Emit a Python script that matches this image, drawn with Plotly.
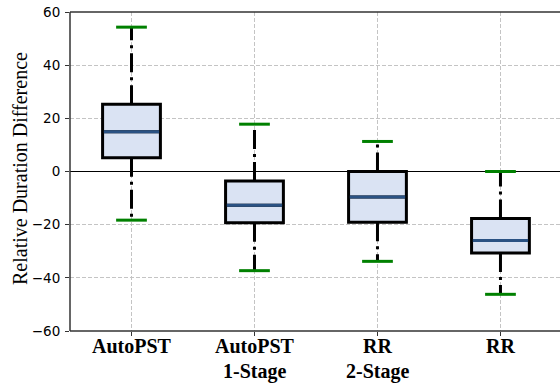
import plotly.graph_objects as go

categories = ["AutoPST", "AutoPST", "RR", "RR"]
second_lines = ["", "1-Stage", "2-Stage", ""]
lower_caps = [-18.3, -37.3, -33.8, -46.2]
q1_vals = [5.2, -19.3, -19.1, -30.7]
medians = [15.0, -12.7, -9.6, -26.0]
q3_vals = [25.3, -3.6, 0.0, -17.7]
upper_caps = [54.3, 17.8, 11.3, 0.0]
y_ticks = [-60, -40, -20, 0, 20, 40, 60]
y_title = "Relative Duration Difference"

BOX_W = 0.47
CAP_W = 0.25
fill = "#dae3f3"
median_color = "#2a5283"
cap_color = "#008000"
dashdot = "19px,5px,3px,5px"
label_font = dict(family="Liberation Serif", size=20, color="black", weight="bold")

fig = go.Figure()
positions = list(range(len(categories)))

for i in positions:
    fig.add_trace(go.Scatter(x=[i, i], y=[q3_vals[i], upper_caps[i]], mode="lines",
                             line=dict(color="black", width=3, dash=dashdot),
                             showlegend=False, hoverinfo="skip"))
    fig.add_trace(go.Scatter(x=[i, i], y=[q1_vals[i], lower_caps[i]], mode="lines",
                             line=dict(color="black", width=3, dash=dashdot),
                             showlegend=False, hoverinfo="skip"))

for i in positions:
    fig.add_trace(go.Box(x=[i], q1=[q1_vals[i]], median=[medians[i]], q3=[q3_vals[i]],
                         lowerfence=[q1_vals[i]], upperfence=[q3_vals[i]],
                         width=BOX_W, whiskerwidth=0, fillcolor=fill,
                         line=dict(color="black", width=3), showlegend=False,
                         boxpoints=False, hoverinfo="skip"))

for i in positions:
    fig.add_trace(go.Scatter(x=[i - BOX_W / 2 + 0.01, i + BOX_W / 2 - 0.01], y=[medians[i], medians[i]],
                             mode="lines", line=dict(color=median_color, width=3),
                             showlegend=False, hoverinfo="skip"))
    for c in (upper_caps[i], lower_caps[i]):
        fig.add_trace(go.Scatter(x=[i - CAP_W / 2, i + CAP_W / 2], y=[c, c], mode="lines",
                                 line=dict(color=cap_color, width=3),
                                 showlegend=False, hoverinfo="skip"))

for i, t in zip(positions, second_lines):
    if t:
        fig.add_annotation(x=i, xref="x", y=-0.085, yref="paper", text=t, showarrow=False,
                           xanchor="center", yanchor="top", font=label_font)

fig.add_annotation(x=-0.102, xref="paper", y=0.508, yref="paper", text=y_title,
                   textangle=-90, showarrow=False, xanchor="center", yanchor="middle",
                   font=dict(family="Liberation Serif", size=20, color="black"))

# spines (top, bottom, left)
spine = dict(color="#333333", width=1.5)
fig.add_shape(type="line", xref="paper", yref="paper", x0=0, x1=1, y0=1, y1=1, line=spine, layer="above")
fig.add_shape(type="line", xref="paper", yref="paper", x0=0, x1=1, y0=0, y1=0, line=spine, layer="above")
fig.add_shape(type="line", xref="paper", yref="paper", x0=0, x1=0, y0=0, y1=1, line=spine, layer="above")

fig.update_layout(
    width=560, height=384,
    margin=dict(l=70, r=0, t=12, b=53, autoexpand=False),
    paper_bgcolor="white", plot_bgcolor="white",
    font=dict(family="DejaVu Sans", color="black"),
    hovermode=False,
    xaxis=dict(
        range=[-0.5, 3.484], tickmode="array", tickvals=positions, ticktext=categories,
        showgrid=True, gridcolor="#c4c4c4", gridwidth=1, griddash="4px,2px",
        showline=False, mirror=False,
        ticks="outside", ticklen=4, tickcolor="#333333", tickwidth=1,
        ticklabelstandoff=-7,
        tickfont=label_font, automargin=False,
        zeroline=False, fixedrange=True,
    ),
    yaxis=dict(
        range=[-60, 60], tickmode="array", tickvals=y_ticks,
        showgrid=True, gridcolor="#c4c4c4", gridwidth=1, griddash="4px,2px",
        showline=False, mirror=False,
        ticks="outside", ticklen=4, tickcolor="#333333", tickwidth=1,
        ticklabelstandoff=2, ticklabeloverflow="allow",
        tickfont=dict(family="DejaVu Sans", size=13.5, color="black"),
        zeroline=True, zerolinecolor="black", zerolinewidth=1.5,
        automargin=False, fixedrange=True,
    ),
)

fig.write_html(
    "out.html",
    config={"displayModeBar": False, "staticPlot": True},
    post_script=(
        "document.body.style.margin='0';"
        "document.body.style.overflow='hidden';"
        "document.documentElement.style.overflow='hidden';"
    ),
)
